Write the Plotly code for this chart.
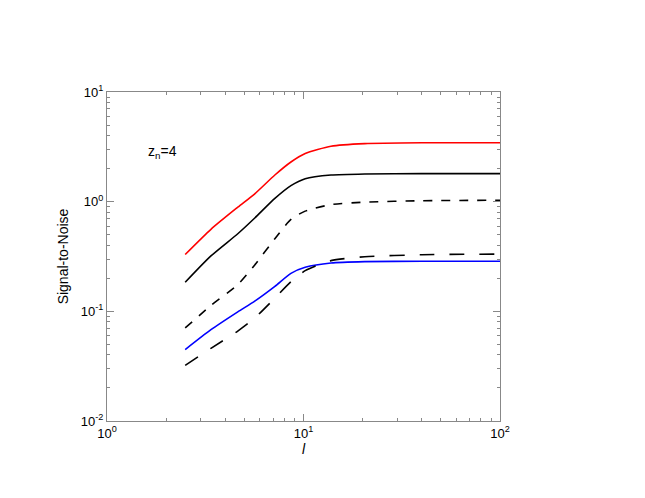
import plotly.graph_objects as go

x_pts = [2.5, 3.38, 4.63, 5.65, 7.15, 8.63, 10.2, 13.8, 20.5, 40, 100]
red = [0.33, 0.56, 0.89, 1.18, 1.75, 2.3, 2.75, 3.2, 3.38, 3.44, 3.45]
black_solid = [0.184, 0.32, 0.51, 0.71, 1.07, 1.40, 1.62, 1.75, 1.79, 1.80, 1.80]
black_short = [0.0706, 0.113, 0.175, 0.265, 0.46, 0.69, 0.82, 0.94, 0.99, 1.02, 1.03]
blue = [0.0448, 0.068, 0.099, 0.124, 0.169, 0.222, 0.252, 0.276, 0.284, 0.286, 0.286]
black_long = [0.0322, 0.046, 0.066, 0.087, 0.132, 0.186, 0.235, 0.29, 0.315, 0.328, 0.333]

fig = go.Figure()
for y, c, d in [(red, "red", "solid"), (black_solid, "black", "solid"),
                (black_short, "black", "dash"), (blue, "blue", "solid"),
                (black_long, "black", "longdash")]:
    fig.add_trace(go.Scatter(x=x_pts, y=y, mode="lines",
                             line=dict(color=c, width=1.6, dash=d, shape="spline", smoothing=0.6),
                             showlegend=False))

ax = dict(type="log", showgrid=False, zeroline=False, showline=True, linecolor="#888", linewidth=1,
          mirror="ticks", ticks="inside", ticklen=7, tickcolor="#888", dtick=1,
          tickfont=dict(family="Liberation Sans", size=13, color="black"),
          minor=dict(ticks="inside", ticklen=3, tickcolor="#888", dtick="D1", showgrid=False))
fig.update_xaxes(**ax, range=[0, 2], tickvals=[1, 10, 100], ticktext=["10<sup>0</sup>", "10<sup>1</sup>", "10<sup>2</sup>"],
                 title=dict(text="<i>l</i>", font=dict(family="Liberation Sans", size=14, color="black"), standoff=4))
fig.update_yaxes(**ax, range=[-2, 1], tickvals=[0.01, 0.1, 1, 10],
                 ticktext=["10<sup>-2</sup>", "10<sup>-1</sup>", "10<sup>0</sup>", "10<sup>1</sup>"],
                 title=dict(text="Signal-to-Noise", font=dict(family="Liberation Sans", size=14, color="black"), standoff=8))
fig.add_annotation(x=0.1, y=0.85, xref="paper", yref="paper", showarrow=False, xanchor="left",
                   text="z<sub>n</sub>=4", font=dict(family="Liberation Sans", size=14, color="black"))
fig.update_layout(width=645, height=498, margin=dict(l=99, r=153, t=84, b=85),
                  plot_bgcolor="white", paper_bgcolor="white")
fig.write_html("out.html")
